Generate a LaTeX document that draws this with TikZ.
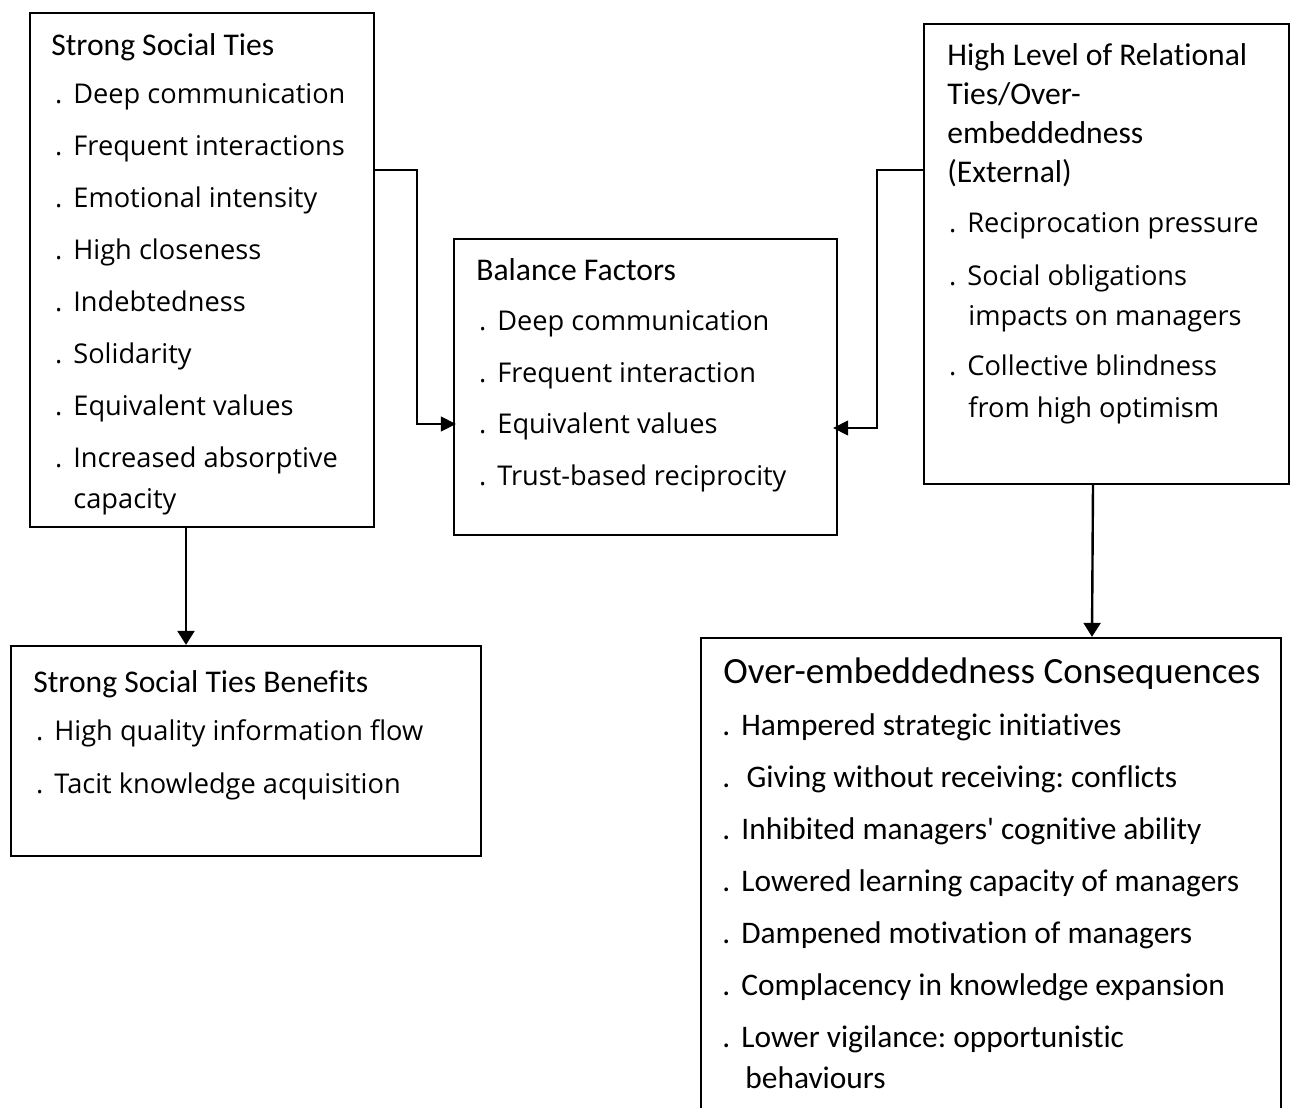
\documentclass[tikz,border=0pt]{standalone}
\usepackage{fontspec}
\setmainfont{Open Sans}[Ligatures={NoCommon}]
\newfontfamily\headfont{Carlito}[Ligatures={NoCommon}]
\usetikzlibrary{arrows.meta,fit}
\frenchspacing

\tikzset{
  box/.style={draw, line width=1.15pt, inner sep=0pt},
  head/.style={anchor=base west, inner sep=0pt, font=\headfont\fontsize{15.8}{19}\selectfont},
  bighead/.style={anchor=base west, inner sep=0pt, font=\headfont\fontsize{18.5}{22}\selectfont},
  item/.style={anchor=base west, inner sep=0pt, font=\fontsize{13.6}{16}\selectfont},
  citem/.style={anchor=base west, inner sep=0pt, font=\headfont\fontsize{15.7}{19}\selectfont},
  link/.style={line width=0.65pt, -{Triangle[length=7.5pt,width=7.5pt]}},
  flow/.style={line width=1.2pt, -{Triangle[length=7pt,width=8.5pt]}},
}
% bullet dot hung to the left of the item text
\newcommand\dotmark{\llap{.\hspace{5.5pt}}}

\begin{document}
\begin{tikzpicture}[x=0.5pt, y=-0.5pt]
  \clip (0,0) rectangle (1291,1108);
  \useasboundingbox (0,0) rectangle (1291,1108);

  % frames
  \node[box, fit={(30,13) (374,527)}] (sst) {};
  \node[box, fit={(454,239) (837,535)}] (bal) {};
  \node[box, fit={(924,24) (1289,484)}] (high) {};
  \node[box, fit={(11,646) (481,856)}] (ben) {};
  \node[box, fit={(701,638) (1281,1140)}] (cons) {};

  % Strong Social Ties
  \node[head] (sst-t) at (51,55) {Strong Social Ties};
  \foreach \txt [count=\i] in {Deep communication, Frequent interactions,
      Emotional intensity, High closeness, Indebtedness, Solidarity,
      Equivalent values, Increased absorptive}
    \node[item] (sst-\i) at (73,{103+52*(\i-1)}) {\dotmark\txt};
  \node[item] (sst-9) at (73,508) {capacity};

  % Balance Factors
  \node[head] (bal-t) at (476,280) {Balance Factors};
  \node[item] (bal-1) at (497,330) {\dotmark Deep communication};
  \node[item] (bal-2) at (497,382) {\dotmark Frequent interaction};
  \node[item] (bal-3) at (497,433) {\dotmark Equivalent values};
  \node[item] (bal-4) at (497,485) {\dotmark Trust-based reciprocity};

  % High Level of Relational Ties
  \node[head] (high-t1) at (947,65) {High Level of Relational};
  \node[head] (high-t2) at (947,104) {Ties/Over-};
  \node[head] (high-t3) at (947,143) {embeddedness};
  \node[head] (high-t4) at (947,182) {(External)};
  \node[item] (high-1) at (967,232) {\dotmark Reciprocation pressure};
  \node[item] (high-2) at (967,285) {\dotmark Social obligations};
  \node[item] (high-3) at (968,325) {impacts on managers};
  \node[item] (high-4) at (967,375) {\dotmark Collective blindness};
  \node[item] (high-5) at (968,417) {from high optimism};

  % Strong Social Ties Benefits
  \node[head] (ben-t) at (33,692) {Strong Social Ties Benefits};
  \node[item] (ben-1) at (54,740) {\dotmark High quality information flow};
  \node[item] (ben-2) at (54,793) {\dotmark Tacit knowledge acquisition};

  % Over-embeddedness Consequences
  \node[bighead] (cons-t) at (723,683) {Over-embeddedness Consequences};
  \foreach \txt [count=\i] in {Hampered strategic initiatives,
      {\,Giving without receiving: conflicts},
      Inhibited managers' cognitive ability,
      Lowered learning capacity of managers,
      Dampened motivation of managers,
      Complacency in knowledge expansion,
      Lower vigilance: opportunistic}
    \node[citem] (cons-\i) at (741,{735+52*(\i-1)}) {\dotmark\txt};
  \node[citem] (cons-8) at (745,1088) {behaviours};

  % connectors
  \coordinate (j1) at (417,170);
  \coordinate (j2) at (417,424);
  \draw[link] (sst.east |- j1) -- (j1) -- (j2) -- ([xshift=1.5pt]bal.west |- j2);

  \coordinate (k1) at (877,170);
  \coordinate (k2) at (877,428);
  \draw[link] (high.west |- k1) -- (k1) -- (k2) -- ([xshift=-2.5pt]bal.east |- k2);

  \coordinate (a1) at (186,0);
  \draw[flow] (sst.south -| a1) -- (ben.north -| a1);

  \coordinate (b1) at (1093,0);
  \coordinate (b2) at (1092,0);
  \draw[flow] (high.south -| b1) -- (cons.north -| b2);
\end{tikzpicture}
\end{document}
